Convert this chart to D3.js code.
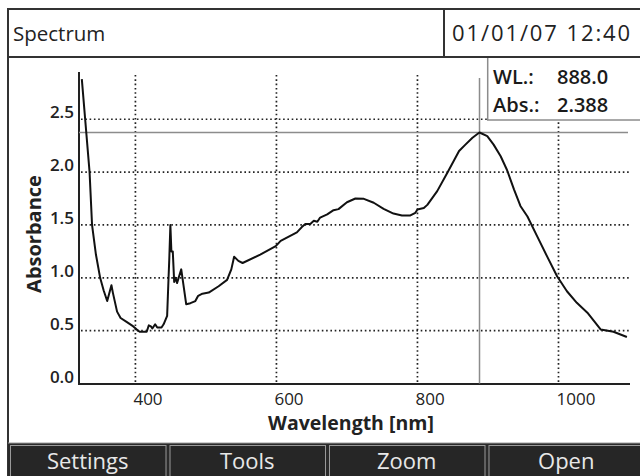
<!DOCTYPE html>
<html><head><meta charset="utf-8">
<script src="https://cdn.jsdelivr.net/npm/d3@7/dist/d3.min.js"></script>
<style>
html,body{margin:0;padding:0;background:#fff;}
svg{display:block;font-family:"Open Sans",sans-serif;}
</style></head>
<body>
<svg id="c" width="640" height="476"></svg>
<script>
// ---- data ----
const wavelengths = [324,335,338.5,344,350,355,360,366,368,374,379,388,397,402,406,416,419,422,424,428,431,437,440,445,447,448,449.6,451,453,455,457,459,465,472,478,485,489,495,504,518,530,536,540,546,552,577,599,606,629,636,641,648,653,658,662,672,681,688,700,712,724,738,752,766,778,790,797,800,809,814,828,842,851,859,868,878,885,888,899,908,918,927,937,946,956,970,984,998,1012,1026,1041,1060,1078,1097];
const absorbance  = [2.88,2.00,1.50,1.22,1.00,0.88,0.78,0.93,0.86,0.68,0.62,0.58,0.54,0.51,0.49,0.49,0.55,0.54,0.52,0.56,0.53,0.53,0.56,0.64,1.00,1.17,1.50,1.25,1.25,0.96,1.00,0.95,1.08,0.75,0.76,0.78,0.83,0.85,0.86,0.92,0.98,1.08,1.20,1.16,1.14,1.22,1.30,1.35,1.43,1.48,1.51,1.51,1.54,1.53,1.57,1.60,1.64,1.65,1.715,1.75,1.747,1.71,1.653,1.608,1.59,1.59,1.615,1.646,1.66,1.69,1.82,1.99,2.10,2.20,2.26,2.325,2.36,2.375,2.34,2.26,2.15,2.02,1.835,1.68,1.58,1.39,1.20,1.015,0.873,0.763,0.67,0.51,0.49,0.44];
const xTicks = [400,600,800,1000];
const yTicks = [0.0,0.5,1.0,1.5,2.0,2.5];
const cursorWL = 888, cursorAbs = 2.375;
const cursorLabels = ["888.0","2.388"];
const buttons = ["Settings","Tools","Zoom","Open"];
const title = "Spectrum", dateText = "01/01/07 12:40";

const svg = d3.select("#c");
const x = d3.scaleLinear().domain([320,1100]).range([79,629]);
const y = d3.scaleLinear().domain([0,2.95]).range([383.5,71.7]);

// header
svg.append("rect").attr("x",8).attr("y",9).attr("width",640).attr("height",48).attr("fill","#fff").attr("stroke","#333").attr("stroke-width",2);
svg.append("line").attr("x1",444).attr("x2",444).attr("y1",9).attr("y2",57).attr("stroke","#333").attr("stroke-width",2);
svg.append("text").attr("x",13).attr("y",41).attr("font-size",20.5).attr("fill","#222").text(title);
svg.append("text").attr("x",452).attr("y",41).attr("font-size",22).attr("letter-spacing",1.9).attr("fill","#222").text(dateText);
// frame
svg.append("line").attr("x1",8).attr("x2",8).attr("y1",9).attr("y2",476).attr("stroke","#333").attr("stroke-width",2);

// grid
const g = svg.append("g");
g.selectAll(".vg").data(xTicks).enter().append("line")
  .attr("x1",d=>x(d)).attr("x2",d=>x(d)).attr("y1",75).attr("y2",y(0))
  .attr("stroke","#222").attr("stroke-width",1.7).attr("stroke-dasharray","1.6 2.7");
g.selectAll(".hg").data(yTicks.filter(d=>d>0)).enter().append("line")
  .attr("x1",x(320)+2).attr("x2",630).attr("y1",d=>y(d)).attr("y2",d=>y(d))
  .attr("stroke","#222").attr("stroke-width",1.7).attr("stroke-dasharray","1.6 2.7");

// axes lines
svg.append("line").attr("x1",79).attr("x2",79).attr("y1",72).attr("y2",y(0)+1).attr("stroke","#222").attr("stroke-width",2);
svg.append("line").attr("x1",78).attr("x2",630).attr("y1",y(0)+0.5).attr("y2",y(0)+0.5).attr("stroke","#222").attr("stroke-width",2);

// tick labels
svg.selectAll(".yt").data(yTicks).enter().append("text")
  .attr("x",74).attr("y",d=>y(d)-1).attr("text-anchor","end").attr("font-size",17).attr("font-weight",600).attr("fill","#222")
  .text(d=>d3.format(".1f")(d));
svg.selectAll(".xt").data(xTicks).enter().append("text")
  .attr("x",d=>x(d)-2).attr("y",405).attr("font-size",17).attr("font-weight",500).attr("fill","#222").text(d=>d);

// axis titles
svg.append("text").attr("x",351).attr("y",430).attr("text-anchor","middle").attr("font-size",19.5).attr("font-weight","bold").attr("fill","#222").text("Wavelength [nm]");
svg.append("text").attr("transform","translate(41,234) rotate(-90)").attr("text-anchor","middle").attr("font-size",20).attr("font-weight","bold").attr("fill","#222").text("Absorbance");

// cursor
svg.append("line").attr("x1",x(cursorWL)).attr("x2",x(cursorWL)).attr("y1",78).attr("y2",y(0)).attr("stroke","#8c8c8c").attr("stroke-width",1.5);
svg.append("line").attr("x1",79).attr("x2",628).attr("y1",y(cursorAbs)).attr("y2",y(cursorAbs)).attr("stroke","#8c8c8c").attr("stroke-width",1.5);

// spectrum
const pts = wavelengths.map((w,i)=>[w,absorbance[i]]);
svg.append("path").datum(pts)
  .attr("d",d3.line().x(d=>x(d[0])).y(d=>y(d[1])).curve(d3.curveLinear))
  .attr("fill","none").attr("stroke","#111").attr("stroke-width",2).attr("stroke-linejoin","round");

// info box
svg.append("rect").attr("x",487.7).attr("y",57).attr("width",160).attr("height",63).attr("fill","#fff").attr("stroke","#8c8c8c").attr("stroke-width",1.5);
svg.append("line").attr("x1",444).attr("x2",640).attr("y1",57).attr("y2",57).attr("stroke","#333").attr("stroke-width",2);
const info = [["WL.:",cursorLabels[0],83.5],["Abs.:",cursorLabels[1],112]];
info.forEach(r=>{
  svg.append("text").attr("x",493).attr("y",r[2]).attr("font-size",20).attr("font-weight",600).attr("fill","#1a1a1a").text(r[0]);
  svg.append("text").attr("x",557).attr("y",r[2]).attr("font-size",20).attr("font-weight",600).attr("fill","#1a1a1a").text(r[1]);
});

// button bar
svg.append("rect").attr("x",8).attr("y",443).attr("width",632).attr("height",33).attr("fill","#2a2a2a");
svg.append("line").attr("x1",8).attr("x2",640).attr("y1",443).attr("y2",443).attr("stroke","#9a9a9a").attr("stroke-width",1);
const bx = d3.scaleBand().domain(buttons).range([10,644]).paddingInner(0.025);
svg.selectAll(".btn").data(buttons).enter().append("rect")
  .attr("x",d=>bx(d)+0.5).attr("y",445.5).attr("width",bx.bandwidth()).attr("height",40)
  .attr("fill","#262626").attr("stroke","#9a9a9a").attr("stroke-width",1);
svg.selectAll(".bt").data(buttons).enter().append("text")
  .attr("x",d=>bx(d)+bx.bandwidth()/2).attr("y",468.5).attr("text-anchor","middle")
  .attr("font-size",22).attr("fill","#e8e8e8").text(d=>d);
</script>
</body></html>
